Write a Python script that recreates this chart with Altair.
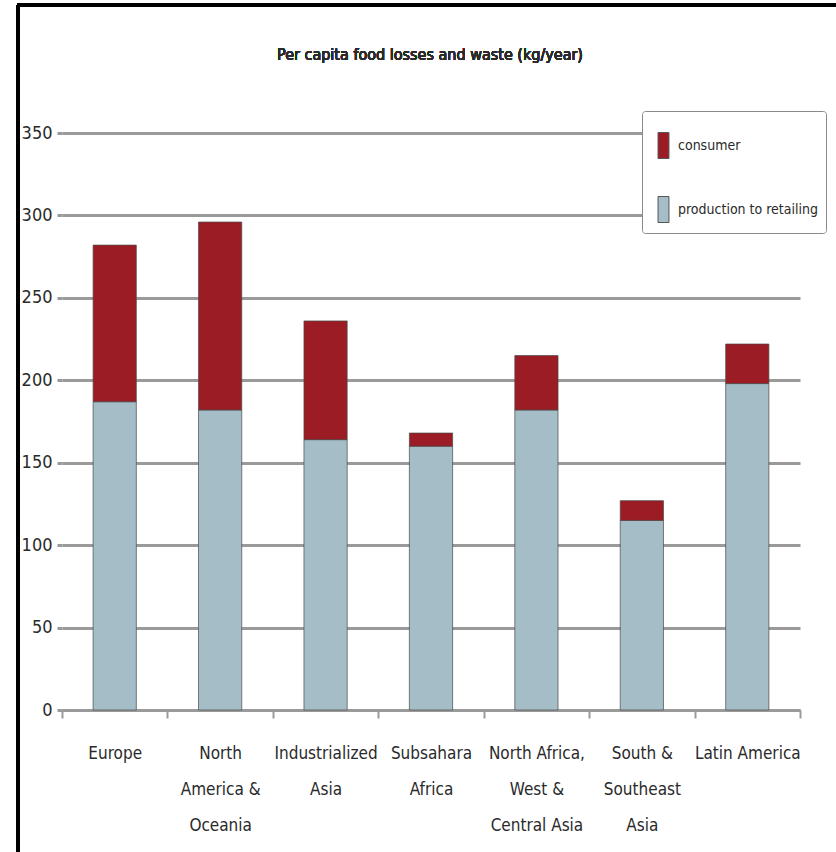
import altair as alt
import pandas as pd

# ---- data ----
regions = [
    "Europe",
    "North|America &|Oceania",
    "Industrialized|Asia",
    "Subsahara|Africa",
    "North Africa,|West &|Central Asia",
    "South &|Southeast|Asia",
    "Latin America",
]
production_to_retailing = [187, 182, 164, 160, 182, 115, 198]
consumer = [95, 114, 72, 8, 33, 12, 24]
series = ["consumer", "production to retailing"]
colors = ["#9b1c24", "#a4bdc7"]
title_text = "Per capita food losses and waste (kg/year)"

rows = []
for r, p, c in zip(regions, production_to_retailing, consumer):
    rows.append({"region": r, "series": "production to retailing", "value": p, "ord": 0})
    rows.append({"region": r, "series": "consumer", "value": c, "ord": 1})
df = pd.DataFrame(rows)

FONT = "'DejaVu Sans Condensed', 'Liberation Sans Narrow', 'Roboto Condensed', Roboto, sans-serif"
GRID = "#9a9a9a"
TEXT = "#2a2a2a"

bars = alt.Chart(df).mark_bar(
    stroke="#4a4a4a", strokeWidth=1, strokeOpacity=0.7, width=alt.RelativeBandSize(0.41)
).encode(
    x=alt.X(
        "region:N",
        sort=regions,
        title=None,
        scale=alt.Scale(paddingInner=0, paddingOuter=0),
        axis=alt.Axis(
            labelExpr="datum.value ? split(datum.value, '|') : ''",
            labelAngle=0,
            labelFont=FONT,
            labelFontSize=17,
            labelColor=TEXT,
            labelLineHeight=36,
            labelPadding=27,
            labelBaseline="top",
            tickBand="extent",
            tickSize=8,
            tickColor=GRID,
            tickWidth=2,
            domainColor=GRID,
            domainWidth=3,
            grid=False,
        ),
    ),
    y=alt.Y(
        "value:Q",
        stack="zero",
        title=None,
        scale=alt.Scale(domain=[0, 350], nice=False),
        axis=alt.Axis(
            values=[0, 50, 100, 150, 200, 250, 300, 350],
            labelFont=FONT,
            labelFontSize=18,
            labelColor=TEXT,
            labelPadding=5,
            tickSize=5,
            tickColor=GRID,
            tickWidth=3,
            domain=False,
            grid=True,
            gridColor=GRID,
            gridWidth=3,
        ),
    ),
    color=alt.Color(
        "series:N",
        scale=alt.Scale(domain=series, range=colors),
        legend=alt.Legend(
            title=" ",
            titleFontSize=5,
            titlePadding=8,
            orient="none",
            legendX=580,
            legendY=-22,
            fillColor="white",
            strokeColor="#8a8a8a",
            padding=8,
            rowPadding=33,
            symbolType="M-0.42,-1L0.42,-1L0.42,1L-0.42,1Z",
            symbolSize=676,
            symbolStrokeColor="#555",
            symbolStrokeWidth=1,
            labelFont=FONT,
            labelFontSize=14,
            labelColor=TEXT,
            labelOffset=1,
        ),
    ),
    order=alt.Order("ord:Q", sort="ascending"),
)

title = alt.Chart(df).mark_text(
    font=FONT, fontSize=16, fontWeight="normal", color=TEXT, align="center", baseline="middle"
).encode(x=alt.value(368), y=alt.value(-78), text=alt.value(title_text))

frame_left = alt.Chart(df).mark_rule(color="black", strokeWidth=3).encode(
    x=alt.value(-44), y=alt.value(-128), y2=alt.value(720)
)
frame_top = alt.Chart(df).mark_rule(color="black", strokeWidth=3).encode(
    x=alt.value(-45), x2=alt.value(780), y=alt.value(-128)
)

chart = (
    alt.layer(bars, title, frame_left, frame_top)
    .properties(
        width=738,
        height=577,
        padding={"left": 62, "top": 133, "right": 36, "bottom": 142},
        autosize="none",
    )
    .configure_view(stroke=None)
    .configure_legend(cornerRadius=3)
)

chart.save("out.html", embed_options={"renderer": "svg", "actions": False})
